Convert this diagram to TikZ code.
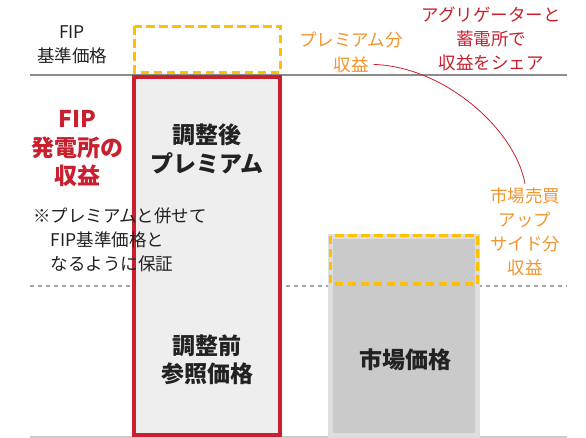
\documentclass[tikz,border=0pt]{standalone}
\usepackage{fontspec}
\setmainfont{Noto Sans CJK JP}
\usepackage{xcolor}
\definecolor{fipred}{RGB}{200,32,46}
\definecolor{premorange}{RGB}{242,150,48}
\definecolor{dashyellow}{RGB}{255,192,0}
\definecolor{boxgray}{RGB}{238,238,238}
\definecolor{mktgray}{RGB}{201,202,201}
\definecolor{mktedge}{RGB}{221,222,221}
\definecolor{linegray}{RGB}{140,140,140}
\definecolor{textblack}{RGB}{34,34,34}
\usetikzlibrary{positioning}

\begin{document}
\begin{tikzpicture}[x=1pt,y=-1pt,
  plain/.style={font=\fontsize{17.5}{24}\selectfont,inner sep=0pt,align=center,text=textblack},
  heavy/.style={font=\fontsize{23}{28.5}\selectfont\bfseries,inner sep=0pt,align=center,text=textblack},
  yellowdash/.style={draw=dashyellow,line width=3pt,dash pattern=on 8.5pt off 4.5pt}]
\useasboundingbox (0,0) rectangle (586,438);

% price levels
\draw[linegray,line width=1.2pt] (30,75) -- (567,75);
\draw[linegray!80,line width=1.3pt,dash pattern=on 4pt off 4pt] (30,286) -- (567,286);
\draw[linegray!45,line width=1.2pt] (30,437) -- (567,437);

% FIP plant bar
\draw[fipred,line width=4pt,fill=boxgray] (134,77) rectangle (280,435);
\draw[yellowdash] (134.5,26.5) rectangle (280.5,72.5);

% market bar
\draw[mktedge,line width=5pt,fill=mktgray] (330.5,236.5) rectangle (477.5,435);
\draw[yellowdash] (330.5,236) rectangle (477.5,284);

% labels
\node[plain] (fipref) at (72,45) {FIP\\基準価格};
\node[plain,text=premorange] (premshareA) at (351,40) {プレミアム分};
\node[plain,text=premorange,below=8pt of premshareA] (premshareB) {収益};
\node[plain,text=fipred] (sharenote) at (491,38.5) {アグリゲーターと\\蓄電所で\\収益をシェア};
\node[heavy,text=fipred] (fiprev) at (77,149) {FIP\\発電所の\\収益};
\node[heavy] (adjprem) at (207,149) {調整後\\プレミアム};
\node[plain,align=left,anchor=west] (guarantee) at (33,239.5)
  {※プレミアムと併せて\\\phantom{※}FIP基準価格と\\\phantom{※}なるように保証};
\node[plain,text=premorange] (upside) at (525,232) {市場売買\\アップ\\サイド分\\収益};
\node[heavy] (refprice) at (207,360) {調整前\\参照価格};
\node[heavy] (mktprice) at (405,360) {市場価格};

% shared revenue link
\draw[fipred,line width=0.8pt] ([xshift=5pt]premshareB.east)
  .. controls +(70,2) and +(-10,-55) .. ([yshift=4pt]upside.north);
\end{tikzpicture}
\end{document}
